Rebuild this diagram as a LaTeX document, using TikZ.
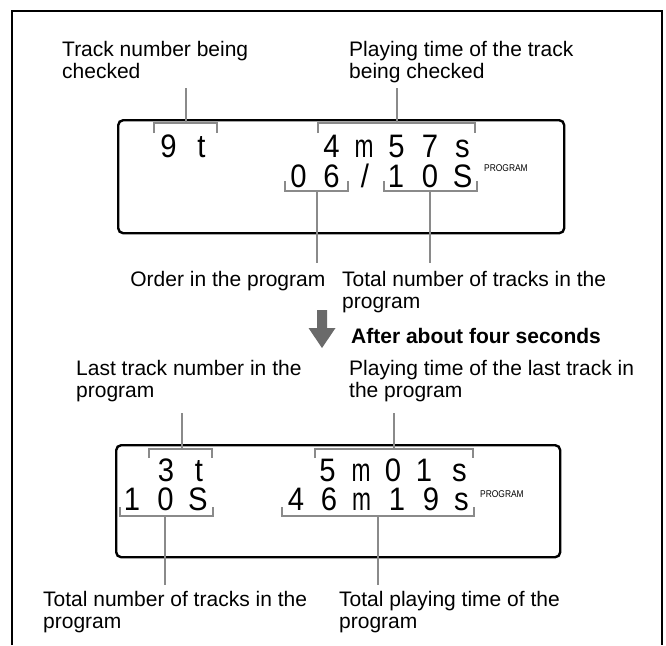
\documentclass[tikz,border=0pt]{standalone}
\usepackage{fontspec}
\usepackage{graphicx}
\setmainfont{Liberation Sans}
\newfontfamily\lcdfont{Liberation Sans}
\newcommand\lcdc[1]{\scalebox{0.9}[1]{#1}}
\newcommand\lcdm{\scalebox{0.7}[1]{m}}
\definecolor{leadgray}{HTML}{8A8A8A}
\definecolor{arrowgray}{HTML}{6A6A6A}
\begin{document}
\begin{tikzpicture}[x=1pt,y=-1pt,
  lab/.style={anchor=base west, inner sep=0pt, font=\fontsize{21}{22}\selectfont},
  labe/.style={anchor=base east, inner sep=0pt, font=\fontsize{21}{22}\selectfont},
  lcd/.style={anchor=base, inner sep=0pt, text height=20pt, text depth=0pt, font=\lcdfont\fontsize{32.5}{33}\selectfont},
  brk/.style={draw=leadgray, line width=2pt},
  lead/.style={draw=leadgray, line width=2pt},
  disp/.style={draw=black, line width=2.4pt, rounded corners=5pt, anchor=north west, inner sep=0pt},
  prog/.style={anchor=west, inner sep=0pt, font=\fontsize{9.8}{10}\selectfont}]
\useasboundingbox (0,0) rectangle (666,645);
% outer frame (open at bottom)
\draw[line width=1.3pt] (12,645) -- (12,11) -- (662,11) -- (662,645);

% ---------- display 1 ----------
\node[disp, minimum width=446pt, minimum height=113pt] (disp1) at (117,119) {};
\node[lcd] (r1c1) at (168.5,157) {\lcdc{9}};
\node[lcd] (r1c2) at (201.5,157) {\lcdc{t}};
\node[lcd] (r1c3) at (331.5,157) {\lcdc{4}};
\node[lcd] (r1c4) at (364,157) {\lcdm};
\node[lcd] (r1c5) at (396.5,157) {\lcdc{5}};
\node[lcd] (r1c6) at (430,157) {\lcdc{7}};
\node[lcd] (r1c7) at (462.5,157) {\lcdc{s}};
\node[lcd] (r2c1) at (298.5,187) {\lcdc{0}};
\node[lcd] (r2c2) at (331.5,187) {\lcdc{6}};
\node[lcd] (r2c3) at (365,187) {\lcdc{/}};
\node[lcd] (r2c4) at (396,187) {\lcdc{1}};
\node[lcd] (r2c5) at (430,187) {\lcdc{0}};
\node[lcd] (r2c6) at (462.5,187) {\lcdc{S}};
\node[prog] (prog1) at (484,168) {\scalebox{0.86}[1]{PROGRAM}};

% brackets display 1
\draw[brk] (154,133) |- (217,123) -- (217,133);
\coordinate (k1) at (186,123);
\draw[brk] (318,133) |- (475,123) -- (475,133);
\coordinate (k2) at (397,123);
\draw[brk] (285,181) |- (348,191) -- (348,181);
\coordinate (k3) at (317,191);
\draw[brk] (384,181) |- (477,191) -- (477,181);
\coordinate (k4) at (430,191);

% labels display 1
\node[lab] (t1a) at (62,56) {Track number being};
\node[lab] (t1b) at (62,78) {checked};
\node[lab] (t2a) at (349,56) {Playing time of the track};
\node[lab] (t2b) at (349,78) {being checked};
\node[labe] (t3a) at (325.5,286) {Order in the program};
\node[lab] (t4a) at (342,286) {Total number of tracks in the};
\node[lab] (t4b) at (342,308) {program};

\coordinate (e1) at (186,88);
\coordinate (e2) at (397,88);
\coordinate (e3) at (317,263);
\coordinate (e4) at (430,263);
\draw[lead] (e1) -- (k1);
\draw[lead] (e2) -- (k2);
\draw[lead] (k3) -- (e3);
\draw[lead] (k4) -- (e4);

% ---------- arrow ----------
\fill[arrowgray] (317,310) -- (327,310) -- (327,328) -- (335.5,328) -- (322,348) -- (308.5,328) -- (317,328) -- cycle;
\node[lab, font=\fontsize{21}{22}\selectfont\bfseries] (after) at (351,343) {After about four seconds};

% ---------- display 2 ----------
\node[disp, minimum width=444pt, minimum height=112pt] (disp2) at (115,444) {};
\node[lcd] (s1c1) at (166,481) {\lcdc{3}};
\node[lcd] (s1c2) at (199,481) {\lcdc{t}};
\node[lcd] (s1c3) at (327.5,481) {\lcdc{5}};
\node[lcd] (s1c4) at (361,481) {\lcdm};
\node[lcd] (s1c5) at (393,481) {\lcdc{0}};
\node[lcd] (s1c6) at (424,481) {\lcdc{1}};
\node[lcd] (s1c7) at (459.5,481) {\lcdc{s}};
\node[lcd] (s2c1) at (132,510) {\lcdc{1}};
\node[lcd] (s2c2) at (165.5,510) {\lcdc{0}};
\node[lcd] (s2c3) at (198,510) {\lcdc{S}};
\node[lcd] (s2c4) at (296,510) {\lcdc{4}};
\node[lcd] (s2c5) at (329,510) {\lcdc{6}};
\node[lcd] (s2c6) at (361.5,510) {\lcdm};
\node[lcd] (s2c7) at (397,510) {\lcdc{1}};
\node[lcd] (s2c8) at (431,510) {\lcdc{9}};
\node[lcd] (s2c9) at (461.5,510) {\lcdc{s}};
\node[prog] (prog2) at (480,494) {\scalebox{0.86}[1]{PROGRAM}};

% brackets display 2
\draw[brk] (149,458) |- (212,449) -- (212,458);
\coordinate (m1) at (182,449);
\draw[brk] (315,458) |- (473,449) -- (473,458);
\coordinate (m2) at (394,449);
\draw[brk] (120,507) |- (213,516) -- (213,507);
\coordinate (m3) at (165,516);
\draw[brk] (282,507) |- (474,516) -- (474,507);
\coordinate (m4) at (378,516);

% labels display 2
\node[lab] (u1a) at (76,375) {Last track number in the};
\node[lab] (u1b) at (76,397) {program};
\node[lab] (u2a) at (349,375) {Playing time of the last track in};
\node[lab] (u2b) at (349,397) {the program};
\node[lab] (u3a) at (43,606) {Total number of tracks in the};
\node[lab] (u3b) at (43,628) {program};
\node[lab] (u4a) at (339,606) {Total playing time of the};
\node[lab] (u4b) at (339,628) {program};

\coordinate (f1) at (182,413);
\coordinate (f2) at (394,413);
\coordinate (f3) at (165,585);
\coordinate (f4) at (378,585);
\draw[lead] (f1) -- (m1);
\draw[lead] (f2) -- (m2);
\draw[lead] (m3) -- (f3);
\draw[lead] (m4) -- (f4);
\end{tikzpicture}
\end{document}
